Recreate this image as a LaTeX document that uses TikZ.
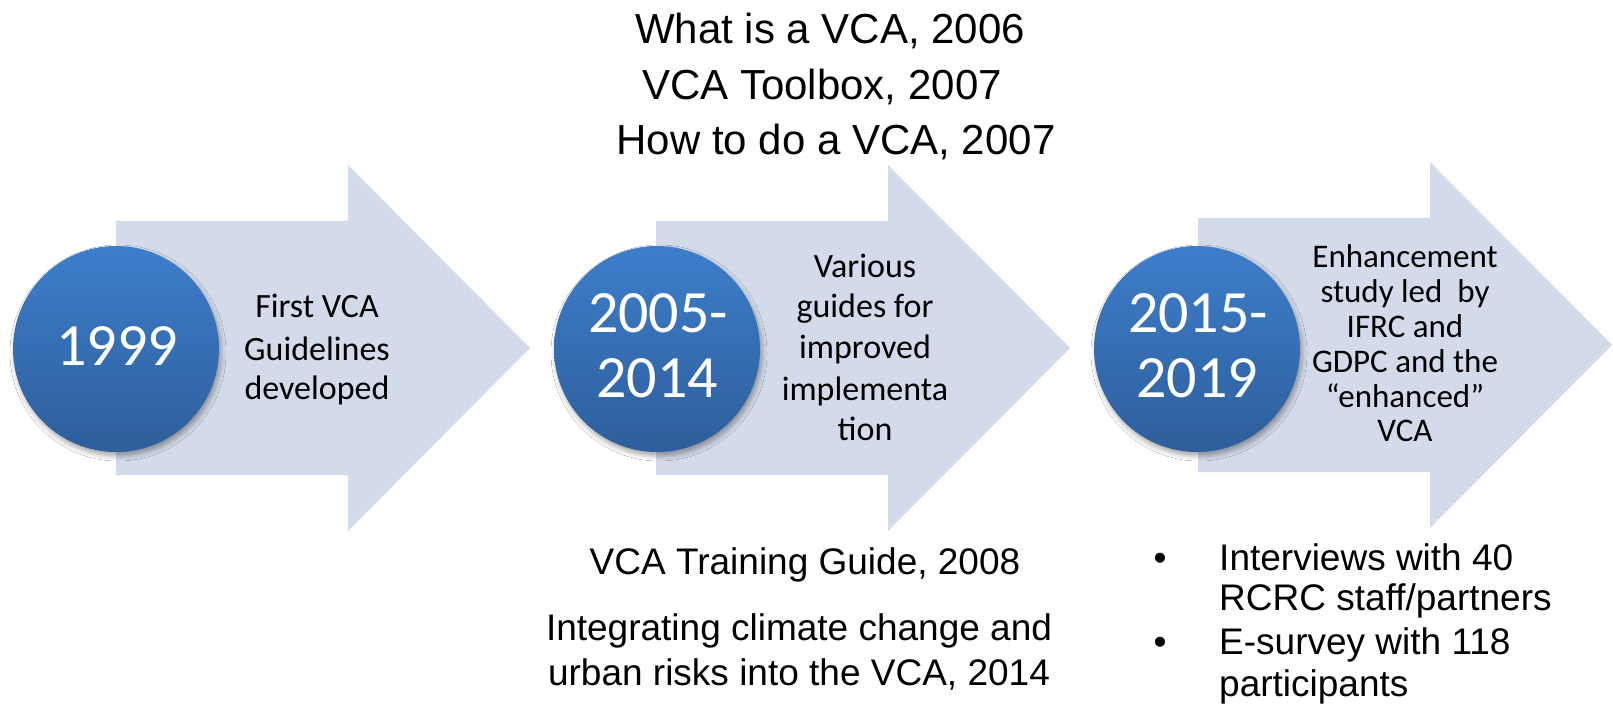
\documentclass[tikz,border=0pt]{standalone}
\usepackage{fontspec}
\newfontfamily\carl{Carlito}
\newfontfamily\lib{Liberation Sans}
\usetikzlibrary{shadows.blur}
\definecolor{arrowfill}{RGB}{211,219,234}
\definecolor{circtop}{RGB}{61,126,203}
\definecolor{circbot}{RGB}{46,94,155}
\tikzset{
  arrowshape/.style={fill=arrowfill},
  yearcirc/.style={circle, minimum size=206pt, inner sep=0pt,
    top color=circtop, bottom color=circbot, draw=none,
    blur shadow={shadow xshift=2pt, shadow yshift=-4pt, shadow blur radius=5pt, shadow opacity=35}},
  yeartext/.style={font=\carl\fontsize{60}{66}\selectfont, text=white, anchor=base, inner sep=0pt},
  arrowtext/.style={font=\carl\fontsize{34}{41}\selectfont, anchor=base, inner sep=0pt},
  smalltext/.style={font=\carl\fontsize{33}{35}\selectfont, anchor=base, inner sep=0pt},
  pubtop/.style={font=\lib\fontsize{42}{50}\selectfont, anchor=base, inner sep=0pt},
  pubtext/.style={font=\lib\fontsize{37}{44}\selectfont, anchor=base, inner sep=0pt},
  listtext/.style={font=\lib\fontsize{37}{44}\selectfont, anchor=base west, inner sep=0pt},
  bullettext/.style={font=\lib\fontsize{37}{44}\selectfont, anchor=base, inner sep=0pt}
}
\begin{document}
\begin{tikzpicture}[x=1pt,y=-1pt]
\useasboundingbox (0,0) rectangle (1613,711);
\fill[white] (0,0) rectangle (1613,711);

% arrows
\fill[arrowshape] (116,221) -- (348,221) -- (348,165) -- (530,348) -- (348,531) -- (348,475) -- (116,475) -- cycle;
\fill[arrowshape] (656,221) -- (888,221) -- (888,165) -- (1070,348) -- (888,531) -- (888,475) -- (656,475) -- cycle;
\fill[arrowshape] (1198,218) -- (1430,218) -- (1430,162) -- (1612,345) -- (1430,528) -- (1430,472) -- (1198,472) -- cycle;

% circles
\node[yearcirc] (c1) at (116,349) {};
\node[yearcirc] (c2) at (657,349) {};
\node[yearcirc] (c3) at (1197,349) {};

% year texts
\node[yeartext] (y1) at (117,365) {1999};
\node[yeartext] (y2a) at (658,332) {2005-};
\node[yeartext] (y2b) at (657,397) {2014};
\node[yeartext] (y3a) at (1198,332) {2015-};
\node[yeartext] (y3b) at (1197,397) {2019};

% arrow 1 text
\node[arrowtext] (a1a) at (317,317) {First VCA};
\node[arrowtext] (a1b) at (317,360) {Guidelines};
\node[arrowtext] (a1c) at (317,399) {developed};

% arrow 2 text
\node[arrowtext] (a2a) at (865,277) {Various};
\node[arrowtext] (a2b) at (865,317) {guides for};
\node[arrowtext] (a2c) at (865,358) {improved};
\node[arrowtext] (a2d) at (865,400) {implementa};
\node[arrowtext] (a2e) at (865,440) {tion};

% arrow 3 text
\node[smalltext] (a3a) at (1405,267) {Enhancement};
\node[smalltext] (a3b) at (1405,302) {study led\ \ by};
\node[smalltext] (a3c) at (1405,337) {IFRC and};
\node[smalltext] (a3d) at (1405,372) {GDPC and the};
\node[smalltext] (a3e) at (1405,407) {“enhanced”};
\node[smalltext] (a3f) at (1405,441) {VCA};

% top publications
\node[pubtop] (p1) at (830,44) {What is a VCA, 2006};
\node[pubtop] (p2) at (822,100) {VCA Toolbox, 2007};
\node[pubtop] (p3) at (836,155) {How to do a VCA, 2007};

% bottom publications
\node[pubtext] (p4) at (805,574) {VCA Training Guide, 2008};
\node[pubtext] (p5) at (799,640) {Integrating climate change and};
\node[pubtext] (p6) at (799,685) {urban risks into the VCA, 2014};

% list
\node[bullettext] (b1) at (1160,570) {\textbullet};
\node[listtext] (l1) at (1219,570) {Interviews with 40};
\node[listtext] (l2) at (1219,610) {RCRC staff/partners};
\node[bullettext] (b2) at (1160,654) {\textbullet};
\node[listtext] (l3) at (1219,654) {E-survey with 118};
\node[listtext] (l4) at (1219,696) {participants};
\end{tikzpicture}
\end{document}
